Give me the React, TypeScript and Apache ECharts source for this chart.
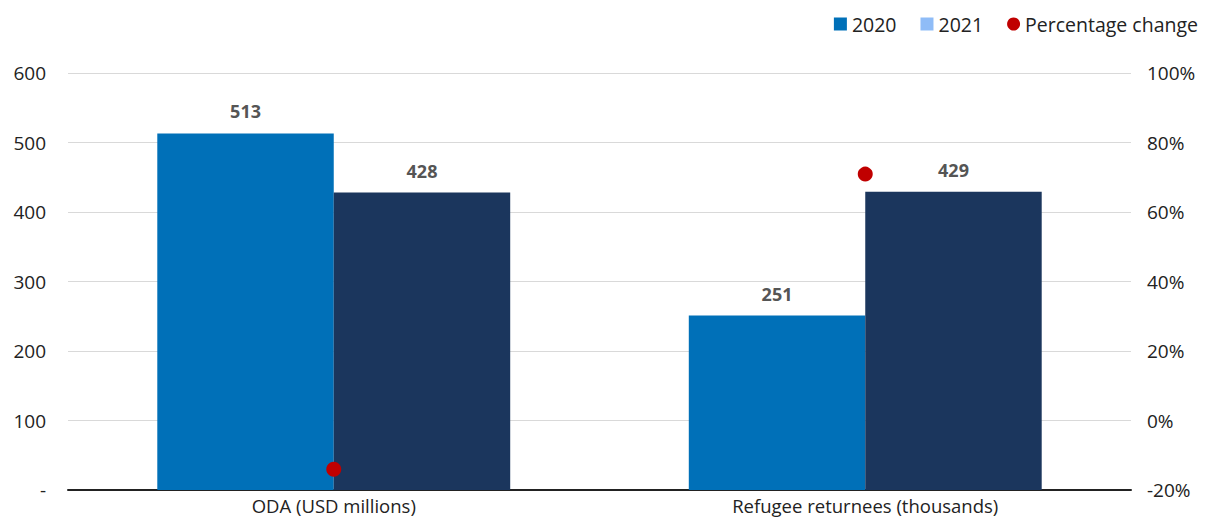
import React, { useEffect, useRef } from "react";
import * as echarts from "echarts";

const categories = ["ODA (USD millions)", "Refugee returnees (thousands)"];
const values2020 = [513, 251];
const values2021 = [428, 429];
const pctChange = [-14, 70.9];
const leftTicks = [0, 100, 200, 300, 400, 500, 600];

const FONT = "'Open Sans', Lato, sans-serif";

export default function App() {
  const ref = useRef<HTMLDivElement>(null);
  useEffect(() => {
    document.body.style.margin = "0";
    const chart = echarts.init(ref.current!, null, { renderer: "svg" });
    chart.setOption({
      animation: false,
      textStyle: { fontFamily: FONT },
      legend: {
        right: 8,
        top: 9,
        itemWidth: 13,
        itemHeight: 13,
        itemGap: 24,
        textStyle: { fontSize: 19.5, color: "#222", fontFamily: FONT },
        data: [
          { name: "2020", icon: "rect", itemStyle: { color: "#0070b8" } },
          { name: "2021", icon: "rect", itemStyle: { color: "#8fbcf7" } },
          { name: "Percentage change", icon: "circle", itemStyle: { color: "#c00000" } },
        ],
      },
      grid: { left: 68, right: 80, top: 73, bottom: 30, containLabel: false },
      xAxis: {
        type: "category",
        data: categories,
        axisTick: { show: false },
        axisLine: { show: true, lineStyle: { color: "#222", width: 2 } },
        axisLabel: {
          fontSize: 18.5,
          lineHeight: 20,
          color: "#222",
          margin: 5,
          fontFamily: FONT,
        },
      },
      yAxis: [
        {
          type: "value",
          min: 0,
          max: 600,
          interval: 100,
          axisLine: { show: false },
          axisTick: { show: false },
          splitLine: { lineStyle: { color: "#d9d9d9", width: 1 } },
          axisLabel: {
            fontSize: 19,
            color: "#222",
            margin: 22,
            fontFamily: FONT,
            formatter: (v: number) => (v === leftTicks[0] ? "-" : String(v)),
          },
        },
        {
          type: "value",
          min: -20,
          max: 100,
          interval: 20,
          axisLine: { show: false },
          axisTick: { show: false },
          splitLine: { show: false },
          axisLabel: {
            fontSize: 19,
            color: "#222",
            margin: 16,
            fontFamily: FONT,
            formatter: (v: number) => v + "%",
          },
        },
      ],
      series: [
        {
          name: "2020",
          type: "bar",
          data: values2020,
          barGap: "0%",
          barCategoryGap: "33.6%",
          itemStyle: { color: "#0070b8" },
          label: {
            show: true,
            position: "top",
            distance: 13,
            fontSize: 18,
            fontWeight: "bold",
            color: "#555",
            fontFamily: FONT,
          },
        },
        {
          name: "2021",
          type: "bar",
          data: values2021,
          itemStyle: { color: "#1b365d" },
          label: {
            show: true,
            position: "top",
            distance: 13,
            fontSize: 18,
            fontWeight: "bold",
            color: "#555",
            fontFamily: FONT,
          },
        },
        {
          name: "Percentage change",
          type: "scatter",
          yAxisIndex: 1,
          data: pctChange,
          symbol: "circle",
          symbolSize: 15,
          itemStyle: { color: "#c00000", opacity: 1 },
          z: 5,
        },
      ],
    });
    return () => chart.dispose();
  }, []);
  return (
    <div
      ref={ref}
      style={{ position: "absolute", left: 0, top: 0, width: 1211, height: 520 }}
    />
  );
}
